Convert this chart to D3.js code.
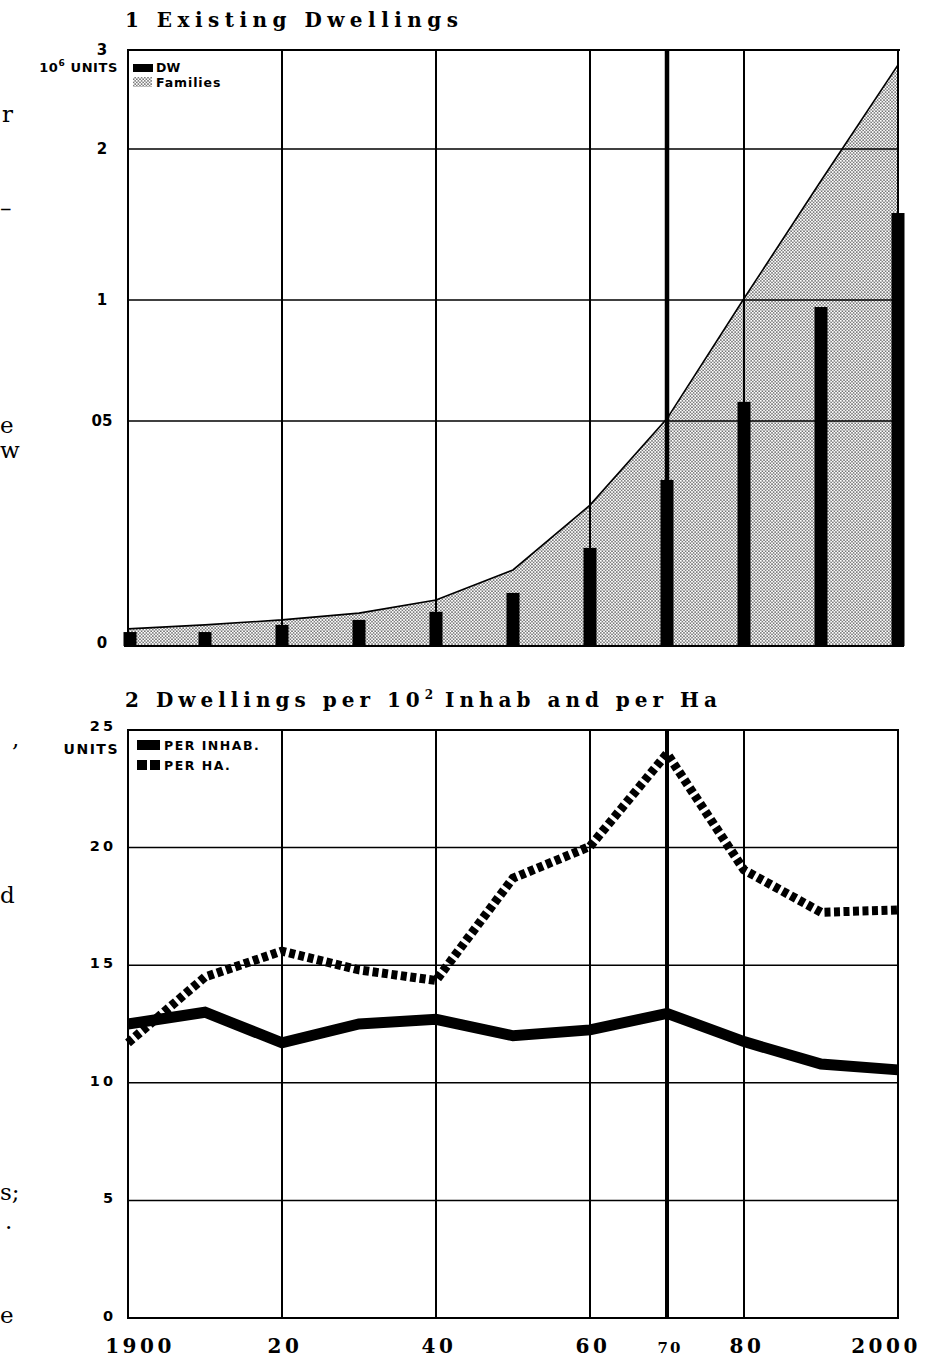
<!DOCTYPE html>
<html><head><meta charset="utf-8">
<script src="https://cdn.jsdelivr.net/npm/d3@7"></script>
<style>html,body{margin:0;padding:0;background:#fff;}svg{display:block;}</style>
</head><body>
<script>
// ---------- data ----------
const years = [1900,1910,1920,1930,1940,1950,1960,1970,1980,1990,2000];
// Chart 1 : existing dwellings (10^6 units)
const dwellings = [0.031,0.031,0.047,0.058,0.076,0.118,0.218,0.369,0.579,0.971,1.576];
const families  = [0.038,0.047,0.058,0.073,0.102,0.169,0.313,0.51,1.01,1.79,2.85];
const topTicks = [0,0.5,1,2,3];
const topTickLabels = ["0","05","1","2","3"];
// Chart 2 : dwellings per 10^2 inhabitants and per hectare
const perInhab = [12.5,13.0,11.7,12.5,12.7,12.0,12.25,12.95,11.75,10.8,10.55];
const perHa    = [11.7,14.5,15.6,14.8,14.35,18.7,20.05,24.0,19.05,17.25,17.35];
const botTicks = [0,5,10,15,20,25];
// shared x axis
const gridYears = [1920,1940,1960,1970,1980];
const xTickYears = [1900,1920,1940,1960,1970,1980,2000];
const xTickLabels = ["1900","20","40","60","70","80","2000"];
// page-edge text fragments from the neighbouring column
const fringe = [["r",2,122],["–",0,216],["e",0,433],["w",0,458],[",",12,747],["d",0,903],["s;",0,1200],[".",5,1229],["e",0,1323]];

// ---------- drawing ----------
const W=932,H=1359;
const svg=d3.select("body").append("svg").attr("width",W).attr("height",H);
svg.append("rect").attr("width",W).attr("height",H).attr("fill","#fff");

const defs=svg.append("defs");
const pat=defs.append("pattern").attr("id","dots").attr("patternUnits","userSpaceOnUse").attr("width",3.2).attr("height",3.2);
pat.append("rect").attr("width",3.2).attr("height",3.2).attr("fill","#fff");
pat.append("circle").attr("cx",0.8).attr("cy",0.8).attr("r",0.68).attr("fill","#000");
pat.append("circle").attr("cx",2.4).attr("cy",2.4).attr("r",0.68).attr("fill","#000");

const x=d3.scaleLinear().domain([1900,2000]).range([128,898]);
const yT=d3.scaleLinear().domain([0,0.5,1,2,3]).range([646,421,300,149,50]);
const yB=d3.scaleLinear().domain([0,25]).range([1318,730]);

const serif="'DejaVu Serif','Liberation Serif',serif";
const sans="'DejaVu Sans','Liberation Sans',sans-serif";

// fringe
svg.selectAll("text.fringe").data(fringe).join("text").attr("class","fringe")
  .attr("x",d=>d[1]).attr("y",d=>d[2]).text(d=>d[0])
  .attr("font-family",serif).attr("font-size",23).attr("fill","#000");

// ---- titles ----
svg.append("text").attr("x",125).attr("y",27).attr("font-family",serif).attr("font-size",20).attr("font-weight","bold")
  .attr("textLength",333).attr("lengthAdjust","spacing").text("1 Existing Dwellings");
const t2=svg.append("text").attr("x",125).attr("y",707).attr("font-family",serif).attr("font-size",20).attr("font-weight","bold");
t2.append("tspan").attr("letter-spacing",5).text("2 Dwellings per 10");
t2.append("tspan").attr("font-size",12).attr("dy",-8).text("2");
t2.append("tspan").attr("dy",8).attr("letter-spacing",5).text(" Inhab and per Ha");

// ================= Chart 1 =================
const g1=svg.append("g");
const area=d3.area().x((d,i)=>x(years[i])).y0(yT(0)).y1(d=>yT(d));
g1.append("path").datum(families).attr("d",area).attr("fill","url(#dots)");
g1.append("path").datum(families).attr("d",d3.line().x((d,i)=>x(years[i])).y(d=>yT(d)))
  .attr("fill","none").attr("stroke","#000").attr("stroke-width",1.6);
g1.selectAll("line.hg").data(topTicks.filter(t=>t>0&&t<3)).join("line")
  .attr("x1",x(1900)).attr("x2",x(2000)).attr("y1",d=>yT(d)).attr("y2",d=>yT(d))
  .attr("stroke","#000").attr("stroke-width",1.5);
g1.selectAll("line.vg").data(gridYears).join("line")
  .attr("x1",d=>x(d)).attr("x2",d=>x(d)).attr("y1",yT(3)).attr("y2",yT(0))
  .attr("stroke","#000").attr("stroke-width",d=>d===1970?4.5:2);
g1.selectAll("rect.bar").data(dwellings).join("rect")
  .attr("x",(d,i)=>x(years[i])-6.5+(i===0?2:0)).attr("width",13)
  .attr("y",d=>yT(d)).attr("height",d=>yT(0)-yT(d)).attr("fill","#000");
g1.append("path").attr("d",`M${x(1900)},${yT(0)}V${yT(3)}H${x(2000)+2}M${x(2000)},${yT(3)}V${yT(0)}M${x(1900)-4},${yT(0)}H${x(2000)+6}`)
  .attr("fill","none").attr("stroke","#000").attr("stroke-width",2);
g1.selectAll("text.yl").data(topTicks).join("text")
  .attr("x",102).attr("y",d=>yT(d)).attr("dy",d=>d===0?"0.15em":"0.36em").attr("text-anchor","middle")
  .attr("font-family",sans).attr("font-weight","bold").attr("font-size",15)
  .text((d,i)=>topTickLabels[i]);
const u1=g1.append("text").attr("x",118).attr("y",72).attr("text-anchor","end").attr("font-family",sans)
  .attr("font-weight","bold").attr("font-size",13).attr("letter-spacing",0.6);
u1.append("tspan").text("10");
u1.append("tspan").attr("font-size",9).attr("dy",-6).text("6");
u1.append("tspan").attr("dy",6).text(" UNITS");
g1.append("rect").attr("x",133).attr("y",64).attr("width",20).attr("height",8).attr("fill","#000");
g1.append("text").attr("x",156).attr("y",72).attr("font-family",sans).attr("font-weight","bold").attr("font-size",12.5).text("DW");
g1.append("rect").attr("x",133).attr("y",77).attr("width",19).attr("height",10).attr("fill","url(#dots)");
g1.append("text").attr("x",156).attr("y",87).attr("font-family",sans).attr("font-weight","bold").attr("font-size",12.5).attr("letter-spacing",0.9).text("Families");

// ================= Chart 2 =================
const g2=svg.append("g");
g2.selectAll("line.hg").data(botTicks.filter(t=>t>0&&t<25)).join("line")
  .attr("x1",x(1900)).attr("x2",x(2000)).attr("y1",d=>yB(d)).attr("y2",d=>yB(d))
  .attr("stroke","#000").attr("stroke-width",1.5);
g2.selectAll("line.vg").data(gridYears).join("line")
  .attr("x1",d=>x(d)).attr("x2",d=>x(d)).attr("y1",yB(25)).attr("y2",yB(0))
  .attr("stroke","#000").attr("stroke-width",d=>d===1970?4:2);
g2.append("path").attr("d",`M${x(1900)},${yB(0)}V${yB(25)}H${x(2000)}V${yB(0)}Z`)
  .attr("fill","none").attr("stroke","#000").attr("stroke-width",2);
const line2=d3.line().x((d,i)=>x(years[i])).y(d=>yB(d));
g2.append("path").datum(perHa).attr("d",line2).attr("fill","none").attr("stroke","#000")
  .attr("stroke-width",9).attr("stroke-dasharray","6,3.5");
g2.append("path").datum(perInhab).attr("d",line2).attr("fill","none").attr("stroke","#000")
  .attr("stroke-width",11).attr("stroke-linejoin","miter");
g2.selectAll("text.yl").data(botTicks).join("text")
  .attr("x",116).attr("y",d=>yB(d)).attr("dy",d=>d===25?"0.05em":"0.2em").attr("text-anchor","end")
  .attr("font-family",sans).attr("font-weight","bold").attr("font-size",14.5).attr("letter-spacing",3)
  .text(d=>d);
g2.append("text").attr("x",119).attr("y",754).attr("text-anchor","end").attr("font-family",sans)
  .attr("font-weight","bold").attr("font-size",14).attr("letter-spacing",1.5).text("UNITS");
g2.append("rect").attr("x",137).attr("y",740).attr("width",23).attr("height",10).attr("fill","#000");
g2.append("text").attr("x",164).attr("y",750).attr("font-family",sans).attr("font-weight","bold").attr("font-size",12.5).attr("letter-spacing",1.5).text("PER INHAB.");
g2.append("line").attr("x1",137).attr("x2",160).attr("y1",765).attr("y2",765).attr("stroke","#000")
  .attr("stroke-width",10).attr("stroke-dasharray","10,3");
g2.append("text").attr("x",164).attr("y",770).attr("font-family",sans).attr("font-weight","bold").attr("font-size",12.5).attr("letter-spacing",1.5).text("PER HA.");

// x labels
svg.selectAll("text.xl").data(xTickYears).join("text")
  .attr("x",(d,i)=>x(d)+(i===0?12:i===xTickYears.length-1?-12:3))
  .attr("y",1353).attr("text-anchor","middle")
  .attr("font-family",serif).attr("font-weight","bold")
  .attr("font-size",d=>d===1970?15:20).attr("letter-spacing",d=>d===1970?2:3.5)
  .text((d,i)=>xTickLabels[i]);
</script>
</body></html>
